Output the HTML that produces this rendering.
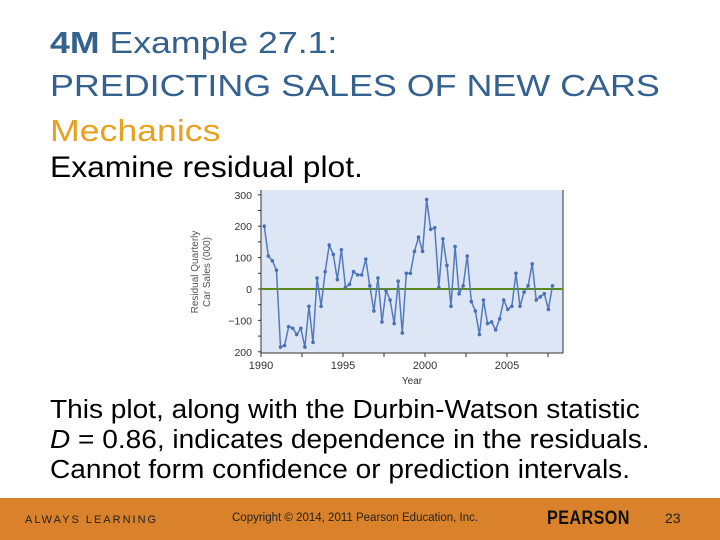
<!DOCTYPE html>
<html><head><meta charset="utf-8"><style>
body{margin:0;width:720px;height:540px;background:#fff;position:relative;overflow:hidden;font-family:"Liberation Sans",sans-serif}
.t{position:absolute;left:50px;white-space:nowrap;line-height:1;transform-origin:0 0}
</style></head><body>
<div class="t" style="top:27px;font-size:31px;color:#35618f;transform:scaleX(1.15)"><b>4M</b> Example 27.1:</div>
<div class="t" style="top:70px;font-size:31px;color:#35618f;transform:scaleX(1.157)">PREDICTING SALES OF NEW CARS</div>
<div class="t" style="top:115px;font-size:31px;color:#e8a020;transform:scaleX(1.15)">Mechanics</div>
<div class="t" style="top:153px;font-size:30px;color:#000;transform:scaleX(1.06)">Examine residual plot.</div>
<svg width="720" height="540" style="position:absolute;left:0;top:0" id="chart"></svg>
<div class="t" style="top:395px;font-size:25.5px;color:#000;line-height:30px;transform:scaleX(1.1)">This plot, along with the Durbin-Watson statistic<br><i>D</i> = 0.86, indicates dependence in the residuals.<br>Cannot form confidence or prediction intervals.</div>
<div style="position:absolute;left:0;top:498px;width:720px;height:42px;background:#d9822b">
<span style="position:absolute;left:25px;top:16px;font-size:11px;letter-spacing:2px;color:#222">ALWAYS LEARNING</span>
<span style="position:absolute;left:232px;top:14px;font-size:11.5px;color:#222">Copyright © 2014, 2011 Pearson Education, Inc.</span>
<span style="position:absolute;left:547px;top:10px;font-size:19px;font-family:'Liberation Sans',sans-serif;color:#111;font-weight:bold;letter-spacing:0.5px;transform:scaleX(0.85);transform-origin:0 0">PEARSON</span>
<span style="position:absolute;left:665px;top:12px;font-size:14px;color:#222">23</span>
</div>
<script>
const yTicks=[300,200,100,0,-100,-200];
const yTickLabels=["300","200","100","0","\u2212100","200"];
const xTicks=[1990,1995,2000,2005];
const residuals=[200,105,90,60,-185,-180,-120,-125,-145,-125,-185,-55,-170,35,-55,55,140,110,30,125,5,15,55,45,45,95,10,-70,35,-105,-5,-35,-110,25,-140,50,50,120,165,120,285,190,195,5,160,75,-55,135,-15,10,105,-40,-70,-145,-35,-110,-105,-130,-95,-35,-65,-55,50,-55,-10,10,80,-35,-25,-15,-65,10];
const startYear=1990.2, step=0.2475;
const NS="http://www.w3.org/2000/svg";
const svg=document.getElementById('chart');
const L=261,R=563,T=190,B=353;
const xs=yr=>L+(yr-1990)*16.4;
const ys=v=>289-v*0.314;
function mk(tag,attrs,parent){const e=document.createElementNS(NS,tag);for(const k in attrs)e.setAttribute(k,attrs[k]);(parent||svg).appendChild(e);return e;}
const bg=mk('rect',{x:L,y:T,width:R-L,height:B-T,fill:'#dde6f4'});


const ax=mk('path',{d:`M${L},${T}V${B}H${R}V${T}`,stroke:'#333',fill:'none','stroke-width':1});


yTicks.forEach((v,i)=>{
  const t=mk('text',{x:L-9,y:ys(v)+4,'text-anchor':'end','font-size':10.5,fill:'#333','font-family':'Liberation Sans'});
  t.textContent=yTickLabels[i];
  
  
  mk('line',{x1:L-3,x2:L,y1:ys(v),y2:ys(v),stroke:'#333'});
  if(v>-200){mk('line',{x1:L-3,x2:L,y1:ys(v-50),y2:ys(v-50),stroke:'#333'});}
});
for(let y=1990;y<=2008;y+=2.5){mk('line',{x1:xs(y),x2:xs(y),y1:B,y2:B+4,stroke:'#333'});}
xTicks.forEach(v=>{
  const t=mk('text',{x:xs(v),y:B+16,'text-anchor':'middle','font-size':11,fill:'#333','font-family':'Liberation Sans'});
  t.textContent=v;
  
  
});
const xt=mk('text',{x:412,y:384,'text-anchor':'middle','font-size':10,fill:'#333','font-family':'Liberation Sans'});
xt.textContent='Year';


const yt=mk('text',{x:0,y:0,'text-anchor':'middle','font-size':10,fill:'#555','font-family':'Liberation Sans',transform:'translate(198,272) rotate(-90)'});
yt.innerHTML='<tspan x="0" dy="0">Residual Quarterly</tspan><tspan x="0" dy="12">Car Sales (000)</tspan>';


const zl=mk('line',{x1:L,x2:R,y1:ys(0),y2:ys(0),stroke:'#5a8a1e','stroke-width':2});


const pts=residuals.map((v,i)=>[xs(startYear+i*step),ys(v)]);
const ln=mk('polyline',{points:pts.map(p=>p.join(',')).join(' '),fill:'none',stroke:'#5479bd','stroke-width':1.5});


pts.forEach(p=>{const c=mk('circle',{cx:p[0],cy:p[1],r:1.8,fill:'#4a6fb5'});

});
</script>
</body></html>
